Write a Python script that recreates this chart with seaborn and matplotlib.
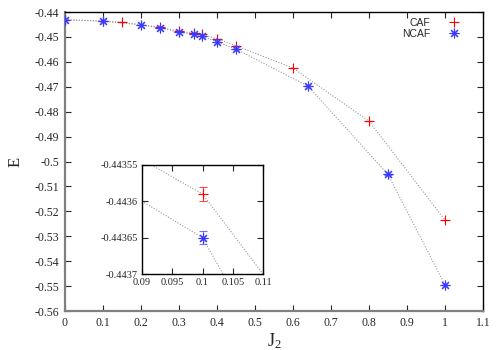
import matplotlib
matplotlib.use("Agg")
import matplotlib.pyplot as plt
import seaborn as sns
import pandas as pd

# CAF data
caf_j2 = [0.0, 0.1, 0.15, 0.25, 0.3, 0.34, 0.36, 0.4, 0.45, 0.6, 0.8, 1.0]
caf_e = [-0.44312, -0.44359, -0.44414, -0.4461, -0.4477, -0.4485, -0.4490,
         -0.4507, -0.4535, -0.4625, -0.4838, -0.5235]
caf_err = [0.00001, 0.00001, 0.00001, 0.00002, 0.00002, 0.00002, 0.00002,
           0.00002, 0.00002, 0.00003, 0.00004, 0.00005]

# NCAF data
ncaf_j2 = [0.0, 0.1, 0.2, 0.25, 0.3, 0.34, 0.36, 0.4, 0.45, 0.64, 0.85, 1.0]
ncaf_e = [-0.44315, -0.44365, -0.44512, -0.4464, -0.4481, -0.4490, -0.4497,
          -0.4519, -0.4549, -0.4698, -0.5052, -0.5496]
ncaf_err = [0.00001, 0.0000085, 0.00001, 0.00002, 0.00002, 0.00002, 0.00002,
            0.00002, 0.00002, 0.00003, 0.00004, 0.00005]

xticks_main = [0, 0.1, 0.2, 0.3, 0.4, 0.5, 0.6, 0.7, 0.8, 0.9, 1, 1.1]
xlabels_main = ['0', '0.1', '0.2', '0.3', '0.4', '0.5', '0.6', '0.7', '0.8', '0.9', '1', '1.1']
yticks_main = [-0.44, -0.45, -0.46, -0.47, -0.48, -0.49, -0.5, -0.51, -0.52, -0.53, -0.54, -0.55, -0.56]
ylabels_main = ['-0.44', '-0.45', '-0.46', '-0.47', '-0.48', '-0.49', '-0.5', '-0.51',
                '-0.52', '-0.53', '-0.54', '-0.55', '-0.56']
xticks_inset = [0.09, 0.095, 0.1, 0.105, 0.11]
xlabels_inset = ['0.09', '0.095', '0.1', '0.105', '0.11']
yticks_inset = [-0.44355, -0.4436, -0.44365, -0.4437]
ylabels_inset = ['-0.44355', '-0.4436', '-0.44365', '-0.4437']

df_caf = pd.DataFrame({'J2': caf_j2, 'E': caf_e})
df_ncaf = pd.DataFrame({'J2': ncaf_j2, 'E': ncaf_e})

sns.set_theme(style="white")
plt.rcParams['font.family'] = ['Liberation Serif', 'DejaVu Serif']
plt.rcParams['mathtext.fontset'] = 'custom'
plt.rcParams['mathtext.rm'] = 'Liberation Serif'
plt.rcParams['mathtext.it'] = 'Liberation Serif'

red = '#ff0000'
blue = '#3a3aff'
line_gray = '#999999'


def draw(ax, ms, mew):
    sns.lineplot(data=df_caf, x='J2', y='E', ax=ax, color=line_gray, lw=0.8,
                 linestyle=(0, (1, 1.5)), sort=False)
    sns.lineplot(data=df_ncaf, x='J2', y='E', ax=ax, color=line_gray, lw=0.8,
                 linestyle=(0, (1, 1.5)), sort=False)
    ax.errorbar(caf_j2, caf_e, yerr=caf_err, fmt='none', ecolor=red, elinewidth=0.8,
                capsize=3, capthick=0.8, alpha=0.7, zorder=3)
    ax.errorbar(ncaf_j2, ncaf_e, yerr=ncaf_err, fmt='none', ecolor=blue, elinewidth=0.8,
                capsize=3, capthick=0.8, alpha=0.7, zorder=3)
    ax.plot(caf_j2, caf_e, ls='none', marker='+', color=red, ms=ms, mew=mew, zorder=4)
    ax.plot(ncaf_j2, ncaf_e, ls='none', marker=(8, 2, 0), color=blue, ms=ms, mew=mew, zorder=4)


fig = plt.figure(figsize=(5, 3.5), dpi=100)
ax = fig.add_axes([0.13, 0.1114, 0.836, 0.8543])
draw(ax, 7, 0.8)

ax.set_xlim(0, 1.1)
ax.set_ylim(-0.56, -0.44)
ax.set_xticks(xticks_main)
ax.set_xticklabels(xlabels_main, fontsize=8.5)
ax.set_yticks(yticks_main)
ax.set_yticklabels(ylabels_main, fontsize=8.5)
ax.tick_params(direction='in', length=4, width=0.8, top=True, right=True,
               bottom=True, left=True, pad=4)
ax.set_xlabel(r'J$_2$', fontsize=13, labelpad=2)
ax.set_ylabel('E', fontsize=12, labelpad=8)
for side in ['left', 'bottom']:
    ax.spines[side].set_color('#808080')
    ax.spines[side].set_linewidth(1.6)
for side in ['top', 'right']:
    ax.spines[side].set_color('black')
    ax.spines[side].set_linewidth(1.0)

h1, = ax.plot([], [], ls='none', marker='+', color=red, ms=7, mew=0.8)
h2, = ax.plot([], [], ls='none', marker=(8, 2, 0), color=blue, ms=7, mew=0.8)
ax.legend([h1, h2], ['CAF', 'NCAF'], loc='upper right', bbox_to_anchor=(0.972, 1.005),
          frameon=False, markerfirst=False,
          prop={'family': 'Liberation Sans', 'size': 7.5}, handletextpad=1.2,
          borderaxespad=0.3, labelspacing=0.1, handlelength=2.0)

# inset
axin = fig.add_axes([0.284, 0.217, 0.242, 0.312])
draw(axin, 7, 0.8)
axin.set_xlim(0.09, 0.11)
axin.set_ylim(-0.4437, -0.44355)
axin.set_xticks(xticks_inset)
axin.set_xticklabels(xlabels_inset, fontsize=7.5)
axin.set_yticks(yticks_inset)
axin.set_yticklabels(ylabels_inset, fontsize=7.5)
axin.tick_params(direction='in', length=4, width=0.8, top=True, right=True,
                 bottom=True, left=True, pad=3)
axin.set_xlabel('')
axin.set_ylabel('')
for side in axin.spines:
    axin.spines[side].set_color('black')
    axin.spines[side].set_linewidth(1.0)

fig.savefig('out.png', dpi=100)
